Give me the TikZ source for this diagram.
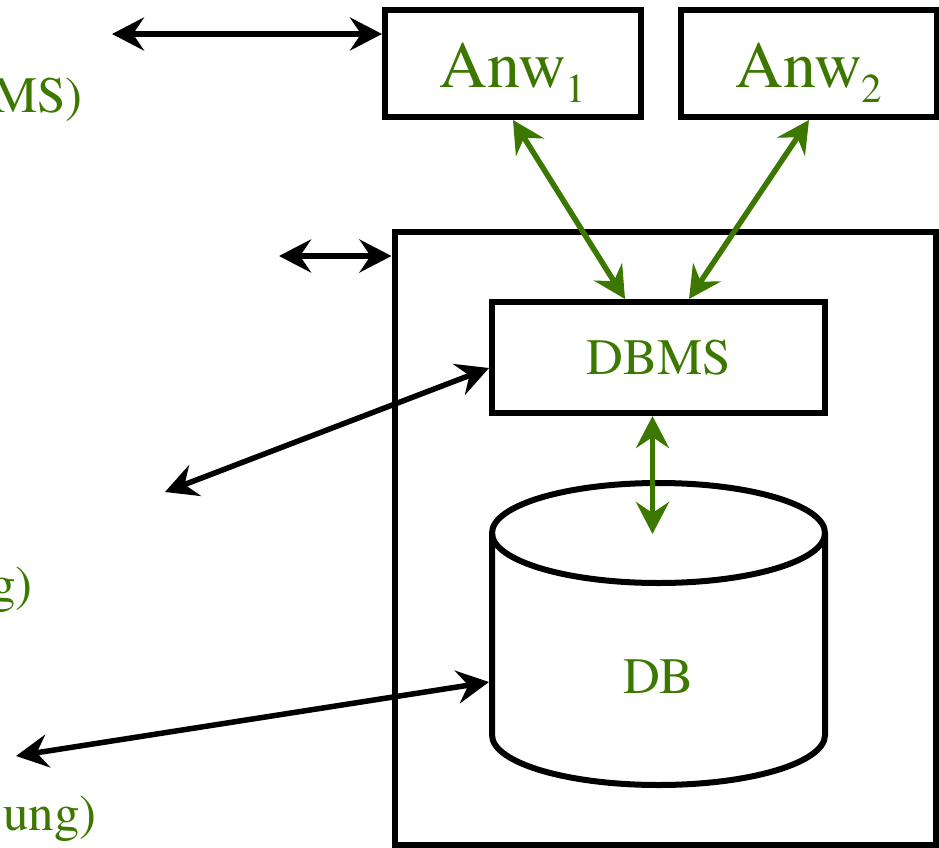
\documentclass[tikz,border=0pt]{standalone}
\usepackage{fontspec}
\setmainfont{TeX Gyre Termes}
\usepackage{xcolor}
\usetikzlibrary{positioning,arrows.meta}
\definecolor{dbgreen}{RGB}{60,120,0}
\tikzset{
	box/.style={draw,line width=6pt,inner sep=0pt,text=dbgreen,font=\fontsize{51}{60}\selectfont},
	lbl/.style={text=dbgreen,inner sep=0pt,font=\fontsize{51}{60}\selectfont},
	biarrow/.style={line width=5.5pt,{Stealth[length=32pt,width=33pt,inset=11pt]}-{Stealth[length=32pt,width=33pt,inset=11pt]}},
}
\newcommand{\anwlabel}[1]{Anw\raisebox{-15pt}{\fontsize{41}{41}\selectfont #1}}

\begin{document}
\begin{tikzpicture}[x=1pt,y=-1pt]
				\useasboundingbox (0,0) rectangle (939,848);
				\clip (0,0) rectangle (939,848);
				\node [box,minimum width=256pt,minimum height=107pt] (anw1) at (513,63.5) {};
				\node [box,minimum width=256pt,minimum height=107pt,right of=anw1,node distance=296pt] (anw2) {};
				\node [lbl,font=\fontsize{66}{70}\selectfont,anchor=base] at ([yshift=-24.5pt]anw1.center) {\anwlabel{1}};
				\node [lbl,font=\fontsize{66}{70}\selectfont,anchor=base] at ([yshift=-24.5pt]anw2.center) {\anwlabel{2}};
				\node [box,minimum width=541.5pt,minimum height=613pt] (sys) at (665.25,538.5) {};
				\node [box,minimum width=333pt,minimum height=111pt] (dbms) at (658.5,357.5) {DBMS};
				\node [minimum width=333pt,minimum height=302pt,inner sep=0pt,outer sep=0pt] (db) at (658.5,634) {};
				\draw [line width=6pt] ([yshift=-50pt]db.north) ellipse [x radius=166.5pt,y radius=50pt];
				\draw [line width=6pt] ([yshift=-50pt]db.north west) -- ([yshift=50pt]db.south west) arc [start angle=180,end angle=360,x radius=166.5pt,y radius=50pt] -- ([yshift=-50pt]db.north east);
				\node [lbl] (dblabel) at ([yshift=-43pt]db.center) {DB};
				% left labels, cut at the edge
				\node [lbl,anchor=base east] (noteA) at (83,113) {MS)};
				\node [lbl,anchor=base east] (noteB) at (33,601) {g)};
				\node [lbl,anchor=base east] (noteC) at (97,830) {ung)};
				\coordinate (endA) at (112,34);
				\coordinate (endB) at (279,256);
				\coordinate (endC) at (165,492);
				\coordinate (endD) at (16,756);
				\draw [biarrow] (endA) -- ([yshift=29.5pt]anw1.west);
				\draw [biarrow] (endB) -- ([yshift=-27pt]sys.north west);
				\draw [biarrow] (endC) -- ([yshift=-10.5pt]dbms.west);
				\draw [biarrow] (endD) -- ([xshift=-3pt,yshift=-48pt]db.west);
				% \draw [biarrow,dbgreen] (anw1.south) -- (dbms.north);
				\draw [biarrow,dbgreen] (anw1.south) -- ([xshift=-33.5pt]dbms.north);
				\draw [biarrow,dbgreen] (anw2.south) -- ([xshift=30.5pt]dbms.north);
				\draw [biarrow,dbgreen] ([xshift=-6pt]dbms.south) -- ([xshift=-6pt,yshift=-51pt]db.north);
			\end{tikzpicture}
\end{document}
